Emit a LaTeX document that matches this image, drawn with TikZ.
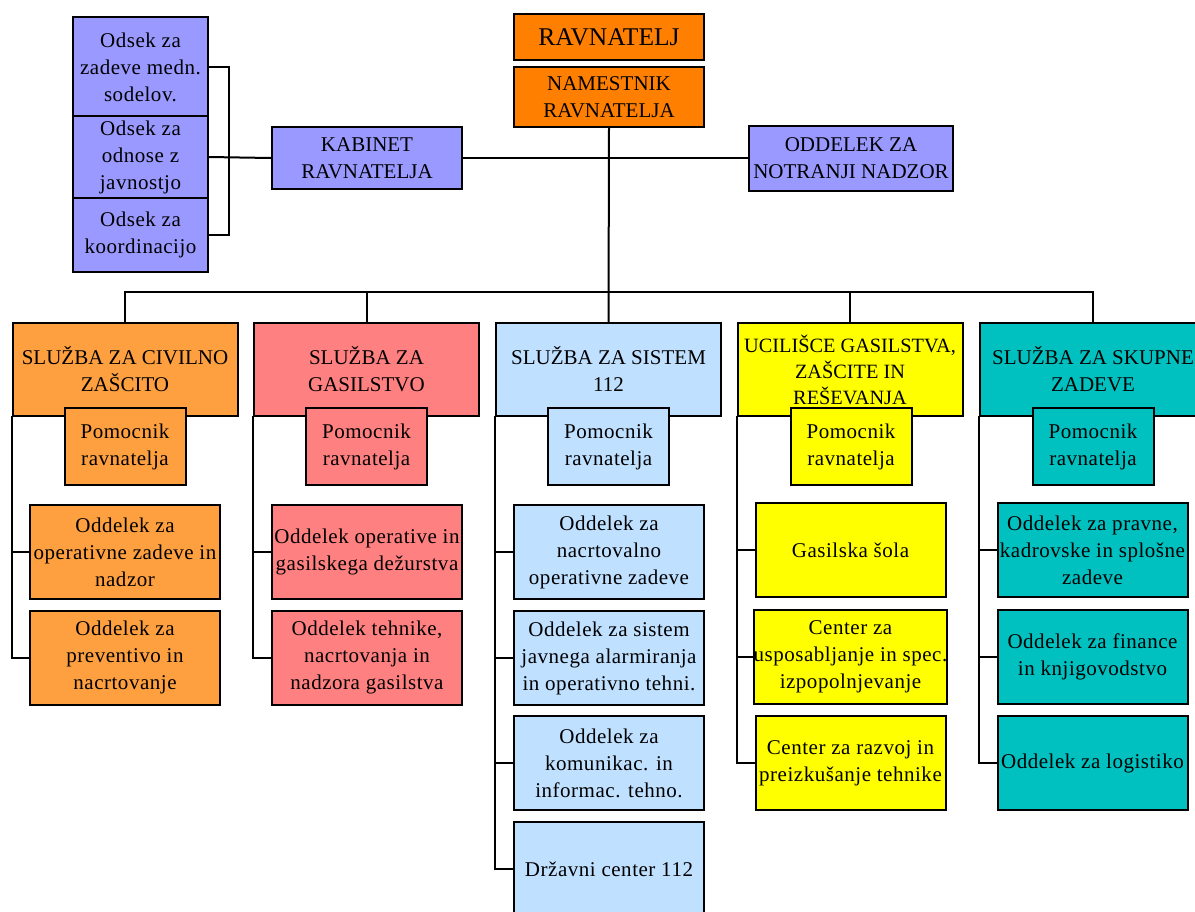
\documentclass[tikz,border=0pt]{standalone}
\usepackage{fontspec}
\setmainfont{Liberation Serif}
\newfontfamily\lsfont[LetterSpace=2.5]{Liberation Serif}
\definecolor{topor}{RGB}{255,128,0}
\definecolor{lav}{RGB}{153,153,255}
\definecolor{civ}{RGB}{255,160,64}
\definecolor{gas}{RGB}{255,128,128}
\definecolor{sis}{RGB}{192,224,255}
\definecolor{uci}{RGB}{255,255,0}
\definecolor{sku}{RGB}{0,192,192}
\begin{document}
\begin{tikzpicture}[x=1pt,y=-1pt,
  unit/.style={draw=black, line width=2pt, inner sep=0pt, align=center,
    font=\fontsize{21}{27}\selectfont},
  head/.style={unit, minimum width=225pt, minimum height=93pt},
  helper/.style={unit, minimum width=121pt, minimum height=77pt,
    font=\lsfont\fontsize{21}{27}\selectfont},
  dept/.style={unit, minimum width=190pt, minimum height=94pt,
    font=\lsfont\fontsize{21}{27}\selectfont},
  link/.style={line width=2pt, line cap=rect}]
\useasboundingbox (0,0) rectangle (1195,911);

% management
\node[unit, fill=topor, minimum width=190pt, minimum height=46pt,
  font=\fontsize{25.5}{30}\selectfont] (rav) at (609,37) {RAVNATELJ};
\node[unit, fill=topor, minimum width=190pt, minimum height=60pt] (nam) at (609,97) {NAMESTNIK\\RAVNATELJA};
\node[unit, fill=lav, minimum width=190pt, minimum height=62pt] (kab) at (367,158) {KABINET\\RAVNATELJA};
\node[unit, fill=lav, minimum width=204pt, minimum height=65pt] (notr) at (851,158) {ODDELEK ZA\\NOTRANJI NADZOR};

% cabinet sections
\node[unit, fill=lav, minimum width=135pt, minimum height=101pt, font=\lsfont\fontsize{21}{27}\selectfont] (o1) at (140.5,67) {Odsek za\\zadeve medn.\\sodelov.};
\node[unit, fill=lav, minimum width=135pt, minimum height=82pt, font=\lsfont\fontsize{21}{27}\selectfont] (o2) at (140.5,157) {Odsek za\\odnose z\\javnostjo};
\node[unit, fill=lav, minimum width=135pt, minimum height=74pt, font=\lsfont\fontsize{21}{27}\selectfont] (o3) at (140.5,235) {Odsek za\\koordinacijo};

% services
\node[head, fill=civ] (h1) at (125,369.5) {SLUŽBA ZA CIVILNO\\ZAŠCITO};
\node[head, fill=gas] (h2) at (366.5,369) {SLUŽBA ZA\\GASILSTVO};
\node[head, fill=sis] (h3) at (608.5,369) {SLUŽBA ZA SISTEM\\112};
\node[head, fill=uci, font=\fontsize{20.3}{26}\selectfont] (h4) at (850,369.5) {UCILIŠCE GASILSTVA,\\ZAŠCITE IN\\REŠEVANJA};
\node[head, fill=sku, minimum width=226pt] (h5) at (1093,369) {SLUŽBA ZA SKUPNE\\ZADEVE};

% assistants
\node[helper, fill=civ] (p1) at (125,446.5) {Pomocnik\\ravnatelja};
\node[helper, fill=gas] (p2) at (366.5,446.5) {Pomocnik\\ravnatelja};
\node[helper, fill=sis] (p3) at (608.5,446.5) {Pomocnik\\ravnatelja};
\node[helper, fill=uci] (p4) at (851,446.5) {Pomocnik\\ravnatelja};
\node[helper, fill=sku] (p5) at (1093,446.5) {Pomocnik\\ravnatelja};

% departments
\node[dept, fill=civ] (s11) at (125,552) {Oddelek za\\operativne zadeve in\\nadzor};
\node[dept, fill=civ] (s12) at (125,657.5) {Oddelek za\\preventivo in\\nacrtovanje};
\node[dept, fill=gas] (s21) at (367,552) {Oddelek operative in\\gasilskega dežurstva};
\node[dept, fill=gas] (s22) at (367,657.5) {Oddelek tehnike,\\nacrtovanja in\\nadzora gasilstva};
\node[dept, fill=sis] (s31) at (609,552) {Oddelek za\\nacrtovalno\\operativne zadeve};
\node[dept, fill=sis] (s32) at (609,658) {Oddelek za sistem\\javnega alarmiranja\\in operativno tehni.};
\node[dept, fill=sis] (s33) at (609,763) {Oddelek za\\komunikac. in\\informac. tehno.};
\node[dept, fill=sis] (s34) at (609,869) {Državni center 112};
\node[dept, fill=uci] (s41) at (850.5,550) {Gasilska šola};
\node[dept, fill=uci] (s42) at (850.5,657) {Center za\\usposabljanje in spec.\\izpopolnjevanje};
\node[dept, fill=uci] (s43) at (850.5,763) {Center za razvoj in\\preizkušanje tehnike};
\node[dept, fill=sku] (s51) at (1092.5,550) {Oddelek za pravne,\\kadrovske in splošne\\zadeve};
\node[dept, fill=sku] (s52) at (1092.5,657) {Oddelek za finance\\in knjigovodstvo};
\node[dept, fill=sku] (s53) at (1092.5,763) {Oddelek za logistiko};

% connectors
\coordinate (brk) at (229,157);
\coordinate (bus) at (609,292);
\draw[link] (o1.east) -| (brk) |- (o3.east);
\draw[link] (o2.east) -- (kab.west);
\draw[link] (kab.east) -- (notr.west);
\draw[link] (nam.south) -- (h3.north);
\draw[link] (h1.north) |- (bus) -| (h5.north);
\draw[link] (h2.north) -- (h2.north |- bus);
\draw[link] (h4.north) -- (h4.north |- bus);
\draw[link] (h1.south west) |- (s11.west);
\draw[link] (h1.south west) |- (s12.west);
\draw[link] (h2.south west) |- (s21.west);
\draw[link] (h2.south west) |- (s22.west);
\draw[link] (h3.south west) |- (s31.west);
\draw[link] (h3.south west) |- (s32.west);
\draw[link] (h3.south west) |- (s33.west);
\draw[link] (h3.south west) |- (s34.west);
\draw[link] (h4.south west) |- (s41.west);
\draw[link] (h4.south west) |- (s42.west);
\draw[link] (h4.south west) |- (s43.west);
\draw[link] (h5.south west) |- (s51.west);
\draw[link] (h5.south west) |- (s52.west);
\draw[link] (h5.south west) |- (s53.west);
\end{tikzpicture}
\end{document}
